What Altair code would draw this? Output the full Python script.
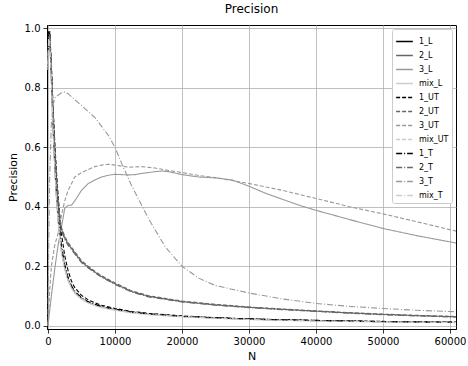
import altair as alt
import pandas as pd

# ---- data ----
series_names = ["1_L", "2_L", "3_L", "mix_L",
                "1_UT", "2_UT", "3_UT", "mix_UT",
                "1_T", "2_T", "3_T", "mix_T"]

n_dec = [0, 100, 250, 500, 750, 1000, 1250, 1500, 1750, 2000, 2500, 3000, 3500, 4000,
         5000, 6000, 7000, 8000, 10000, 12500, 15000, 20000, 25000, 30000, 35000,
         40000, 45000, 50000, 55000, 60900]

p_1_L = [0.93, 0.99, 0.97, 0.83, 0.67, 0.54, 0.44, 0.36, 0.30, 0.255, 0.195, 0.155, 0.13, 0.112,
         0.092, 0.079, 0.07, 0.063, 0.054, 0.045, 0.039, 0.031, 0.026, 0.022, 0.019,
         0.017, 0.015, 0.0135, 0.012, 0.011]
p_1_UT = [0.90, 0.98, 0.99, 0.88, 0.74, 0.62, 0.52, 0.44, 0.37, 0.31, 0.235, 0.185, 0.15, 0.128,
          0.102, 0.087, 0.077, 0.069, 0.058, 0.048, 0.042, 0.033, 0.027, 0.023, 0.020,
          0.018, 0.016, 0.0145, 0.013, 0.012]
p_1_T = [0.92, 0.99, 0.98, 0.85, 0.69, 0.56, 0.46, 0.38, 0.32, 0.27, 0.205, 0.162, 0.135, 0.116,
         0.095, 0.081, 0.072, 0.065, 0.056, 0.046, 0.040, 0.032, 0.027, 0.023, 0.020,
         0.018, 0.016, 0.014, 0.0125, 0.0115]
p_mix_L = [0.88, 0.97, 0.96, 0.82, 0.66, 0.53, 0.43, 0.35, 0.29, 0.245, 0.188, 0.15, 0.126, 0.108,
           0.089, 0.076, 0.067, 0.060, 0.052, 0.043, 0.037, 0.030, 0.025, 0.021, 0.018,
           0.016, 0.014, 0.013, 0.0115, 0.0105]
p_mix_UT = [0.86, 0.96, 0.97, 0.84, 0.68, 0.55, 0.45, 0.37, 0.31, 0.26, 0.20, 0.158, 0.132, 0.114,
            0.094, 0.080, 0.071, 0.064, 0.055, 0.046, 0.040, 0.032, 0.026, 0.022, 0.019,
            0.017, 0.015, 0.0135, 0.012, 0.011]
p_mix_T = [0.87, 0.97, 0.96, 0.83, 0.67, 0.54, 0.44, 0.36, 0.30, 0.25, 0.192, 0.153, 0.128, 0.110,
           0.091, 0.078, 0.069, 0.062, 0.053, 0.044, 0.038, 0.031, 0.025, 0.021, 0.018,
           0.016, 0.0145, 0.013, 0.0118, 0.0108]

p_2_L = [0.88, 0.97, 0.99, 0.86, 0.72, 0.60, 0.50, 0.42, 0.36, 0.325, 0.295, 0.275, 0.26, 0.245,
         0.215, 0.197, 0.180, 0.165, 0.141, 0.115, 0.099, 0.081, 0.070, 0.062, 0.055,
         0.049, 0.043, 0.038, 0.034, 0.030]
p_2_UT = [0.86, 0.96, 0.99, 0.87, 0.73, 0.61, 0.51, 0.43, 0.37, 0.33, 0.30, 0.28, 0.264, 0.249,
          0.219, 0.200, 0.183, 0.168, 0.144, 0.117, 0.101, 0.083, 0.072, 0.063, 0.056,
          0.050, 0.044, 0.039, 0.035, 0.031]
p_2_T = [0.87, 0.97, 0.98, 0.85, 0.71, 0.59, 0.49, 0.41, 0.355, 0.32, 0.29, 0.27, 0.256, 0.241,
         0.212, 0.194, 0.178, 0.163, 0.139, 0.113, 0.097, 0.080, 0.069, 0.061, 0.054,
         0.048, 0.042, 0.037, 0.033, 0.029]

n_3_L = [0, 250, 500, 1000, 1500, 2000, 2500, 3000, 3500, 4000, 5000, 6000, 7000, 8000, 9000,
         10000, 11000, 12000, 13000, 14000, 15000, 16000, 17000, 18000, 20000, 22500, 25000,
         27500, 30000, 32500, 35000, 37500, 40000, 45000, 50000, 55000, 60900]
p_3_L = [0.0, 0.05, 0.10, 0.19, 0.27, 0.33, 0.395, 0.405, 0.405, 0.42, 0.455, 0.478, 0.49, 0.50,
         0.506, 0.509, 0.508, 0.507, 0.508, 0.512, 0.515, 0.518, 0.52, 0.518, 0.508, 0.50, 0.497,
         0.49, 0.469, 0.445, 0.425, 0.405, 0.388, 0.357, 0.327, 0.303, 0.278]

n_3_UT = [0, 250, 500, 1000, 1500, 2000, 2500, 3000, 4000, 5000, 6000, 7000, 8000, 9000, 10000,
          12000, 14000, 16000, 18000, 20000, 22500, 25000, 27500, 30000, 35000, 40000, 45000,
          50000, 55000, 60900]
p_3_UT = [0.0, 0.12, 0.20, 0.27, 0.31, 0.37, 0.42, 0.455, 0.50, 0.515, 0.525, 0.535, 0.54, 0.543,
          0.54, 0.533, 0.535, 0.53, 0.522, 0.515, 0.505, 0.498, 0.488, 0.478, 0.455, 0.428, 0.40,
          0.376, 0.35, 0.318]

n_3_T = [0, 100, 250, 500, 750, 1000, 1500, 2000, 2500, 3000, 4000, 5000, 6000, 7000, 8000, 9000,
         10000, 11000, 12500, 15000, 17500, 20000, 22500, 25000, 30000, 35000, 40000, 45000,
         50000, 55000, 60900]
p_3_T = [0.0, 0.25, 0.5, 0.68, 0.74, 0.765, 0.775, 0.783, 0.786, 0.78, 0.76, 0.74, 0.72, 0.70,
         0.67, 0.64, 0.60, 0.545, 0.47, 0.36, 0.265, 0.20, 0.16, 0.135, 0.11, 0.09, 0.075, 0.065,
         0.058, 0.052, 0.047]

series_data = {
    "1_L": (n_dec, p_1_L), "2_L": (n_dec, p_2_L), "3_L": (n_3_L, p_3_L), "mix_L": (n_dec, p_mix_L),
    "1_UT": (n_dec, p_1_UT), "2_UT": (n_dec, p_2_UT), "3_UT": (n_3_UT, p_3_UT), "mix_UT": (n_dec, p_mix_UT),
    "1_T": (n_dec, p_1_T), "2_T": (n_dec, p_2_T), "3_T": (n_3_T, p_3_T), "mix_T": (n_dec, p_mix_T),
}

rows = []
for name in series_names:
    ns, ps = series_data[name]
    for order, (n, p) in enumerate(zip(ns, ps)):
        rows.append({"series": name, "N": n, "Precision": p, "order": order})
df = pd.DataFrame(rows)

grays = ["#000000", "#666666", "#999999", "#cccccc"]
color_range = grays * 3
dash_range = [[1, 0]] * 4 + [[4, 2]] * 4 + [[6, 2, 1, 2]] * 4

font = "DejaVu Sans"

legend = alt.Legend(title=None, orient="top-right", offset=4)

chart = alt.Chart(df).mark_line(strokeWidth=1.1, clip=True).encode(
    x=alt.X("N:Q", scale=alt.Scale(domain=[-150, 60900], nice=False, zero=False),
            axis=alt.Axis(values=[0, 10000, 20000, 30000, 40000, 50000, 60000], format="d",
                          title="N")),
    y=alt.Y("Precision:Q", scale=alt.Scale(domain=[-0.011, 1.011], nice=False, zero=False),
            axis=alt.Axis(values=[0.0, 0.2, 0.4, 0.6, 0.8, 1.0], format=".1f", title="Precision")),
    color=alt.Color("series:N", scale=alt.Scale(domain=series_names, range=color_range),
                    legend=legend),
    strokeDash=alt.StrokeDash("series:N", scale=alt.Scale(domain=series_names, range=dash_range),
                              legend=legend),
    order="order:Q",
).properties(
    width=409, height=304,
    title=alt.Title("Precision", font=font, fontSize=12, fontWeight="normal", color="black", offset=7),
    autosize="none",
    padding={"left": 47, "top": 25, "right": 12, "bottom": 37},
).configure_view(
    stroke="black", strokeWidth=1
).configure_axis(
    grid=True, gridColor="#b0b0b0", gridWidth=0.8,
    domainColor="black", domainWidth=1,
    tickColor="black", tickSize=4, tickWidth=0.8,
    labelFont=font, labelFontSize=10, labelColor="black",
    titleFont=font, titleFontSize=11, titleColor="black", titleFontWeight="normal",
).configure_axisX(
    labelPadding=3, titlePadding=4
).configure_axisY(
    labelPadding=3, titlePadding=6
).configure_legend(
    fillColor="white", strokeColor="#cccccc", strokeWidth=1, cornerRadius=2,
    padding=3, labelFont=font, labelFontSize=8, labelColor="black",
    symbolType="stroke", symbolSize=280, symbolStrokeWidth=1.4, rowPadding=0,
    labelOffset=5,
)

chart.save("out.html", embed_options={"renderer": "svg", "actions": False})
